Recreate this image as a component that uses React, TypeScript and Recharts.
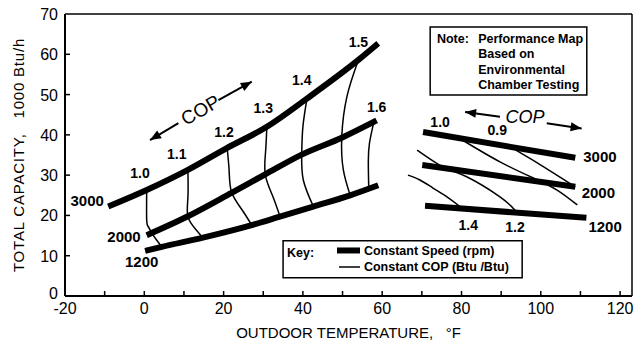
import React from 'react';
import {
  ComposedChart,
  Line,
  Scatter,
  XAxis,
  YAxis,
  ReferenceArea,
  ReferenceLine,
  Label,
} from 'recharts';

const FONT = '"Liberation Sans", Arial, Helvetica, sans-serif';

type P = [number, number];
const pts = (a: P[]) => a.map(([x, y]) => ({ x, y }));

// heating map: constant speed (rpm)
const heat3000: P[] = [[-9.1, 22.2], [0.6, 26.3], [11, 31.3], [20.8, 36.7], [30.9, 42], [41, 49], [54, 58.6], [59, 62.7]];
const heat2000: P[] = [[0.6, 15.1], [11, 19.8], [22, 25.6], [30.5, 30.2], [39.7, 35.1], [49.8, 39.3], [58.6, 43.6]];
const heat1200: P[] = [[0.2, 11.2], [4.4, 12.2], [14.8, 14.5], [27.1, 17.6], [34.2, 19.7], [42.6, 22.2], [51.9, 25.0], [59, 27.5]];

// heating map: constant COP
const heatCop: P[][] = [
  [[0.6, 25.9], [0.6, 18.9], [1.0, 17.2], [1.9, 15.6], [3.1, 13.9], [4.4, 12.2]],
  [[11, 31.3], [11, 24.5], [11, 19.7], [13, 16.5], [14.8, 14.4]],
  [[20.9, 36.7], [21.4, 31], [22, 25.8], [24.5, 21.6], [27.1, 17.6]],
  [[30.9, 42], [30.6, 36], [30.5, 30.2], [32.3, 25], [34.2, 19.8]],
  [[41, 48.8], [40, 42], [39.7, 35.2], [40.1, 28.8], [42.6, 22.3]],
  [[54, 58.6], [51.1, 49.5], [49.8, 39.5], [50.2, 31.3], [51.9, 25.1]],
  [[57.8, 42.8], [56.8, 38], [56.5, 33.5], [56.6, 27.0]],
];

// cooling map: constant speed
const cool3000: P[] = [[70.3, 40.7], [108.7, 34.3]];
const cool2000: P[] = [[70.1, 32.5], [108.7, 27.1]];
const cool1200: P[] = [[70.8, 22.4], [111.5, 19.4]];

// cooling map: constant COP
const coolCop: P[][] = [
  [[66.5, 30], [69.5, 28.8], [72.8, 26.8], [76.5, 24.5], [79.6, 22.2]],
  [[68.8, 36.2], [75.4, 32], [81.3, 29.6], [89.7, 24.6], [93.5, 21.3]],
  [[80.4, 38.6], [89.7, 33.3], [98.1, 29.3], [104.1, 26.3], [109.2, 22.6]],
  [[92.3, 37], [100, 32.5], [108.7, 27.1]],
];

// COP direction arrows: tail -> head
const arrows: P[][] = [
  [[8.6, 42.9], [1.44, 38.7]],
  [[18.7, 48.6], [27.1, 53.2]],
  [[89.7, 44.5], [80.9, 45.7]],
  [[101.5, 42.9], [110.3, 41.6]],
];

const xTicks = [-20, -10, 0, 10, 20, 30, 40, 50, 60, 70, 80, 90, 100, 110, 120];
const yTicks = [0, 10, 20, 30, 40, 50, 60, 70];

const speedLabelsEnd = [
  { x: -10.2, y: 23.7, text: '3000' },
  { x: -0.9, y: 14.7, text: '2000' },
];
const speedLabelsMid = [{ x: -0.65, y: 8.5, text: '1200' }];
const speedLabelsStart = [
  { x: 110.7, y: 34.6, text: '3000' },
  { x: 110.3, y: 25.6, text: '2000' },
  { x: 112, y: 17.2, text: '1200' },
];
const copLabels = [
  { x: -1.1, y: 30.5, text: '1.0' },
  { x: 8.2, y: 35.2, text: '1.1' },
  { x: 20.1, y: 40.8, text: '1.2' },
  { x: 30.0, y: 46.6, text: '1.3' },
  { x: 39.7, y: 53.6, text: '1.4' },
  { x: 54.0, y: 63.1, text: '1.5' },
  { x: 58.6, y: 47.0, text: '1.6' },
  { x: 74.6, y: 43.3, text: '1.0' },
  { x: 89.0, y: 41.3, text: '0.9' },
  { x: 81.7, y: 17.6, text: '1.4' },
  { x: 93.5, y: 17.2, text: '1.2' },
];
const copWordLeft = [{ x: 14.1, y: 46.2, text: 'COP' }];
const copWordRight = [{ x: 96.0, y: 44.5, text: 'COP' }];

const noteLines = [
  { x: 73.8, y: 64.0, text: 'Note:' },
  { x: 84.2, y: 64.0, text: 'Performance Map' },
  { x: 84.2, y: 60.3, text: 'Based on' },
  { x: 84.2, y: 56.3, text: 'Environmental' },
  { x: 84.2, y: 52.6, text: 'Chamber Testing' },
];
const keyLines = [
  { x: 36.0, y: 10.9, text: 'Key:' },
  { x: 55.4, y: 11.3, text: 'Constant Speed (rpm)' },
  { x: 55.4, y: 7.2, text: 'Constant COP (Btu /Btu)' },
];
const keyThick: P[] = [[48.6, 11.3], [54.4, 11.3]];
const keyThin: P[] = [[49.1, 7.2], [54.4, 7.2]];

const textShape =
  (anchor: string, size: number, weight: string, rotate = 0, italic = false) =>
  (p: any) => (
    <text
      x={p.cx}
      y={p.cy}
      dy="0.36em"
      textAnchor={anchor}
      fontFamily={FONT}
      fontSize={size}
      fontWeight={weight}
      fontStyle={italic ? 'italic' : 'normal'}
      fill="#000"
      transform={rotate ? `rotate(${rotate} ${p.cx} ${p.cy})` : undefined}
    >
      {p.payload.text}
    </text>
  );

const ArrowHead = (p: any) => {
  const { cx, cy, index, points } = p;
  if (!points || index !== points.length - 1) return <g key={`a-${index}`} />;
  const prev = points[index - 1];
  const ang = (Math.atan2(cy - prev.y, cx - prev.x) * 180) / Math.PI;
  return (
    <polygon
      key={`a-${index}`}
      points="0,0 -11,-4.5 -11,4.5"
      fill="#000"
      transform={`translate(${cx} ${cy}) rotate(${ang})`}
    />
  );
};

const XTick = (p: any) => {
  const { x, y, payload } = p;
  const v = payload.value;
  return (
    <g>
      <line x1={x} x2={x} y1={y} y2={y - 5} stroke="#000" strokeWidth={1.5} />
      {v % 20 === 0 && (
        <text x={x} y={y + 18} textAnchor="middle" fontFamily={FONT} fontSize={16} fill="#000">
          {v}
        </text>
      )}
    </g>
  );
};

const YTick = (p: any) => {
  const { x, y, payload } = p;
  return (
    <g>
      {payload.value !== 0 && payload.value !== 70 && (
        <line x1={x} x2={x + 5} y1={y} y2={y} stroke="#000" strokeWidth={1.5} />
      )}
      <text x={x - 7} y={y + (payload.value === 0 ? 3 : 6)} textAnchor="end" fontFamily={FONT} fontSize={16} fill="#000">
        {payload.value}
      </text>
    </g>
  );
};

const YTitle = (p: any) => {
  const vb = p.viewBox || { x: 10, y: 14, width: 55, height: 282 };
  const cx = 19;
  const cy = vb.y + vb.height / 2;
  return (
    <text
      x={cx}
      y={cy}
      dy="0.36em"
      textAnchor="middle"
      fontFamily={FONT}
      fontSize={15}
      letterSpacing={0.8}
      fill="#000"
      transform={`rotate(-90 ${cx} ${cy})`}
    >
      {'TOTAL CAPACITY,\u00A0\u00A0 1000 Btu/h'}
    </text>
  );
};

export default function App() {
  const thick = (d: P[], k: string, type: any = 'monotone') => (
    <Line
      key={k}
      data={pts(d)}
      dataKey="y"
      type={type}
      stroke="#000"
      strokeWidth={6}
      dot={false}
      activeDot={false}
      isAnimationActive={false}
    />
  );
  const thin = (d: P[], k: string) => (
    <Line
      key={k}
      data={pts(d)}
      dataKey="y"
      type="natural"
      stroke="#000"
      strokeWidth={1.5}
      dot={false}
      activeDot={false}
      isAnimationActive={false}
    />
  );

  return (
    <div style={{ position: 'absolute', left: 0, top: 0, background: '#fff' }}>
      <ComposedChart width={635} height={342} margin={{ top: 14, right: 3, left: 10, bottom: 0 }}>
        <XAxis
          type="number"
          dataKey="x"
          domain={[-20, 123]}
          ticks={xTicks}
          interval={0}
          allowDataOverflow
          height={46}
          tickSize={0}
          tickMargin={0}
          tickLine={false}
          tick={<XTick />}
          axisLine={{ stroke: '#000', strokeWidth: 2 }}
        >
          <Label
            value={'OUTDOOR TEMPERATURE,\u00A0\u00A0\u00A0°F'}
            position="insideBottom"
            offset={4}
            style={{ fontFamily: FONT, fontSize: 15, fill: '#000' }}
          />
        </XAxis>
        <YAxis
          type="number"
          dataKey="y"
          domain={[0, 70]}
          ticks={yTicks}
          interval={0}
          allowDataOverflow
          width={55}
          tickSize={0}
          tickMargin={0}
          tickLine={false}
          tick={<YTick />}
          axisLine={{ stroke: '#000', strokeWidth: 2 }}
        >
          <Label content={<YTitle />} />
        </YAxis>

        <ReferenceLine y={70} stroke="#000" strokeWidth={1.5} />
        <ReferenceLine x={123} stroke="#000" strokeWidth={1.5} />

        <ReferenceArea x1={72.1} x2={111.6} y1={49.9} y2={66.8} fill="#fff" fillOpacity={1} stroke="#000" strokeWidth={1.5} />
        <ReferenceArea x1={35.0} x2={95.3} y1={4.5} y2={13.7} fill="#fff" fillOpacity={1} stroke="#000" strokeWidth={1.5} />

        {heatCop.map((d, i) => thin(d, `hc${i}`))}
        {coolCop.map((d, i) => thin(d, `cc${i}`))}
        {thick(heat3000, 'h3')}
        {thick(heat2000, 'h2')}
        {thick(heat1200, 'h1')}
        {thick(cool3000, 'c3', 'linear')}
        {thick(cool2000, 'c2', 'linear')}
        {thick(cool1200, 'c1', 'linear')}
        {arrows.map((d, i) => (
          <Line
            key={`ar${i}`}
            data={pts(d)}
            dataKey="y"
            type="linear"
            stroke="#000"
            strokeWidth={2}
            dot={<ArrowHead />}
            activeDot={false}
            isAnimationActive={false}
          />
        ))}
        <Line data={pts(keyThick)} dataKey="y" type="linear" stroke="#000" strokeWidth={6} dot={false} activeDot={false} isAnimationActive={false} />
        <Line data={pts(keyThin)} dataKey="y" type="linear" stroke="#000" strokeWidth={1.5} dot={false} activeDot={false} isAnimationActive={false} />

        <Scatter data={speedLabelsEnd} dataKey="y" shape={textShape('end', 15, 'bold')} isAnimationActive={false} />
        <Scatter data={speedLabelsMid} dataKey="y" shape={textShape('middle', 15, 'bold')} isAnimationActive={false} />
        <Scatter data={speedLabelsStart} dataKey="y" shape={textShape('start', 15, 'bold')} isAnimationActive={false} />
        <Scatter data={copLabels} dataKey="y" shape={textShape('middle', 14, 'bold')} isAnimationActive={false} />
        <Scatter data={copWordLeft} dataKey="y" shape={textShape('middle', 19, 'normal', -30)} isAnimationActive={false} />
        <Scatter data={copWordRight} dataKey="y" shape={textShape('middle', 18, 'normal', 0, true)} isAnimationActive={false} />
        <Scatter data={noteLines} dataKey="y" shape={textShape('start', 12.5, 'bold')} isAnimationActive={false} />
        <Scatter data={keyLines} dataKey="y" shape={textShape('start', 12.5, 'bold')} isAnimationActive={false} />
      </ComposedChart>
    </div>
  );
}
